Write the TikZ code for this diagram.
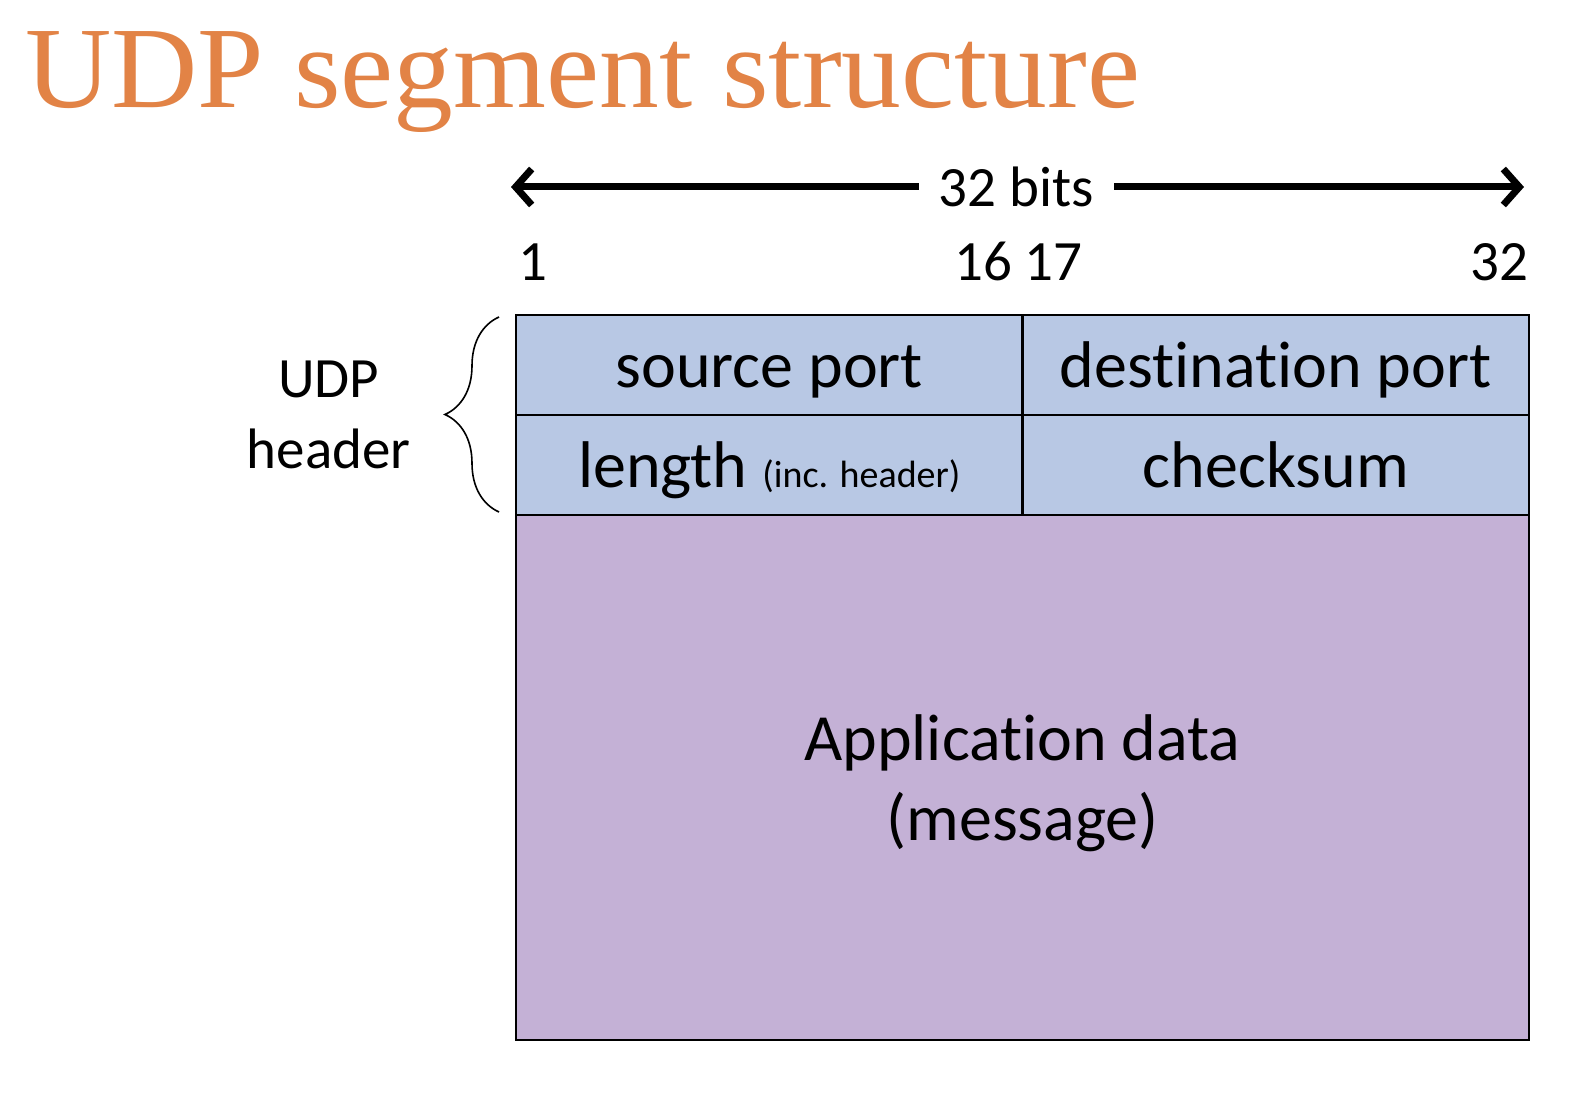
\documentclass[tikz,border=0pt]{standalone}
\usepackage{fontspec}
\setmainfont{Carlito}[Ligatures=CommonOff]
\newfontfamily\titlefont{Liberation Serif}[FakeStretch=1.03]
\usetikzlibrary{positioning,decorations.pathreplacing,arrows.meta}
\definecolor{titleorange}{RGB}{226,131,70}
\definecolor{headerblue}{RGB}{184,200,228}
\definecolor{datapurple}{RGB}{196,177,214}

\begin{document}
\begin{tikzpicture}[
     x=0.5pt, y=0.5pt,
     % define styles
     slidetitle/.style={
         inner sep=0pt,
         text=titleorange,
         font=\titlefont\fontsize{58}{70}\selectfont
     },
     field/.style={
         draw, line width=1.2pt, fill=headerblue,
         minimum width=253.25pt, minimum height=50pt,
         inner sep=0pt, outer sep=0pt,
         text height=27pt, text depth=4pt,
         font=\fontsize{33}{40}\selectfont
     },
     payload/.style={
         field, fill=datapurple,
         minimum width=506.5pt, minimum height=262.5pt,
         text height=, text depth=0pt,
         align=center
     },
     bitnum/.style={
         inner sep=0pt,
         font=\fontsize{28.5}{34}\selectfont
     },
     hdrlabel/.style={
         inner sep=0pt, align=center,
         font=\fontsize{28.5}{35.5}\selectfont
     },
     widthline/.style={
         line width=3.5pt,
         -{Straight Barb[length=8pt,width=18pt]}
     },
     hbrace/.style={
         decorate,
         decoration={brace, amplitude=27pt},
         line width=0.8pt
     }
]
\useasboundingbox (0,0) rectangle (1586,1104);

% slide title
\node[slidetitle, anchor=base west] (ttl) at (25,996) {UDP segment structure};

% header fields, two per row
\node[field, anchor=north west] (src) at (516,789) {source port};
\node[field, right=0pt of src] (dst) {destination port};
\node[field, below=0pt of src] (len) {length {\fontsize{19}{22}\selectfont (inc. header)}};
\node[field, below=0pt of dst] (chk) {checksum};

% payload below the header
\node[payload, anchor=north west] (data) at (len.south west) {Application data\\(message)};

% bit positions above the fields
\node[bitnum, anchor=base west] (n1) at ([xshift=1pt,yshift=17pt]src.north west) {1};
\node[bitnum, anchor=base] (n1617) at ([xshift=-2pt,yshift=17pt]src.north east) {16 17};
\node[bitnum, anchor=base east] (n32) at ([yshift=17pt]dst.north east) {32};

% width arrow with label in the middle
\node[bitnum, inner sep=10pt] (bits) at ([xshift=-3pt,yshift=64pt]src.north east) {32 bits};
\coordinate (wl) at ([xshift=-2.5pt,yshift=64pt]src.north west);
\coordinate (wr) at ([xshift=-2.5pt,yshift=64pt]dst.north east);
\draw[widthline] (bits) -- (wl);
\draw[widthline] (bits) -- (wr);

% brace round the header rows
\coordinate (hb) at ([xshift=-8.5pt,yshift=1.5pt]len.south west);
\coordinate (ht) at ([xshift=-8.5pt,yshift=-1pt]src.north west);
\draw[hbrace] (hb) -- (ht);
\coordinate (tip) at ([xshift=-35.5pt]src.south west);
\node[hdrlabel, left=17pt of tip] (hdr) {UDP\\header};
\end{tikzpicture}
\end{document}
